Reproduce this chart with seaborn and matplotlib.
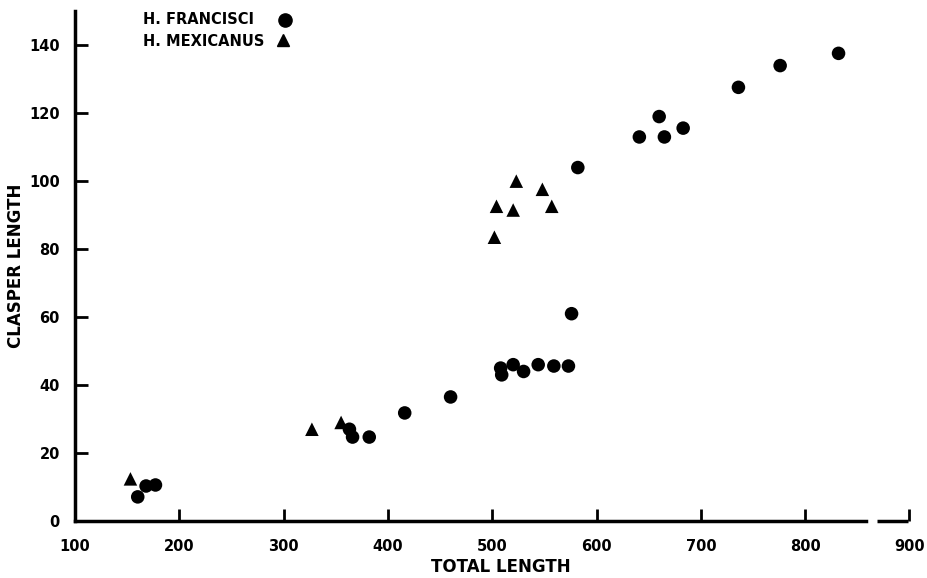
import matplotlib
matplotlib.use("Agg")
import matplotlib.pyplot as plt
import seaborn as sns
import pandas as pd
from matplotlib.lines import Line2D

# Data
francisci_total = [160, 168, 177, 363, 366, 382, 416, 460, 508, 509, 520, 530,
                   544, 559, 573, 576, 582, 641, 660, 665, 683, 736, 776, 832]
francisci_clasper = [7.1, 10.3, 10.6, 27, 24.7, 24.7, 31.8, 36.5, 45, 43, 46, 44,
                     46, 45.6, 45.6, 61, 104, 113, 119, 113, 115.6, 127.6, 134, 137.6]
mexicanus_total = [153, 327, 355, 502, 504, 520, 523, 548, 557]
mexicanus_clasper = [12.4, 27, 29, 83.5, 92.6, 91.5, 100, 97.6, 92.6]

species_labels = ["H. FRANCISCI", "H. MEXICANUS"]
x_ticks = [100, 200, 300, 400, 500, 600, 700, 800, 900]
y_ticks = [0, 20, 40, 60, 80, 100, 120, 140]

df = pd.DataFrame({
    "TOTAL LENGTH": francisci_total + mexicanus_total,
    "CLASPER LENGTH": francisci_clasper + mexicanus_clasper,
    "species": [species_labels[0]] * len(francisci_total) + [species_labels[1]] * len(mexicanus_total),
})

sns.set_theme(style="white")
plt.rcParams["font.family"] = ["DejaVu Sans"]
plt.rcParams["font.weight"] = "bold"
plt.rcParams["text.color"] = "black"
plt.rcParams["axes.labelcolor"] = "black"
plt.rcParams["xtick.color"] = "black"
plt.rcParams["ytick.color"] = "black"

fig = plt.figure(figsize=(9.28, 5.78), dpi=100)
ax = fig.add_axes([0.081, 0.0986, 0.917, 0.882])

sns.scatterplot(data=df, x="TOTAL LENGTH", y="CLASPER LENGTH", style="species",
                markers={species_labels[0]: "o", species_labels[1]: "^"},
                color="black", s=95, linewidth=0, ax=ax, legend=False)

ax.set_xlim(100, 916)
ax.set_ylim(0, 150)

for side in ["top", "right"]:
    ax.spines[side].set_visible(False)
ax.spines["left"].set_linewidth(2.5)
ax.spines["left"].set_color("black")
ax.spines["bottom"].set_linewidth(2.5)
ax.spines["bottom"].set_color("black")
ax.spines["bottom"].set_bounds(100, 858)
ax.plot([869, 899], [0, 0], color="black", lw=2.5, clip_on=False,
        solid_capstyle="butt")

ax.set_xticks(x_ticks)
ax.set_yticks(y_ticks)
ax.set_xticklabels([str(v) for v in x_ticks])
ax.set_yticklabels([str(v) for v in y_ticks])
ax.tick_params(axis="both", direction="in", length=9, width=2, color="black",
               labelsize=10.5, pad=11, bottom=True, left=True, labelcolor="black")
ax.tick_params(axis="x", pad=13)
for lab in ax.get_xticklabels() + ax.get_yticklabels():
    lab.set_fontweight("bold")

ax.set_xlabel("TOTAL LENGTH", fontsize=12, fontweight="bold", labelpad=3)
ax.set_ylabel("CLASPER LENGTH", fontsize=12, fontweight="bold", labelpad=3)

# legend: left-aligned labels followed by the marker
ax.text(143 / 928, 1 - 20 / 578, species_labels[0], transform=fig.transFigure,
        ha="left", va="center", fontsize=10.5, fontweight="bold")
ax.text(143 / 928, 1 - 41 / 578, species_labels[1], transform=fig.transFigure,
        ha="left", va="center", fontsize=10.5, fontweight="bold")
fig.add_artist(Line2D([285 / 928], [1 - 20 / 578], marker="o", color="black",
                      linestyle="none", markersize=9.5, transform=fig.transFigure))
fig.add_artist(Line2D([283 / 928], [1 - 40 / 578], marker="^", color="black",
                      linestyle="none", markersize=9, transform=fig.transFigure))

fig.savefig("out.png", dpi=100)
